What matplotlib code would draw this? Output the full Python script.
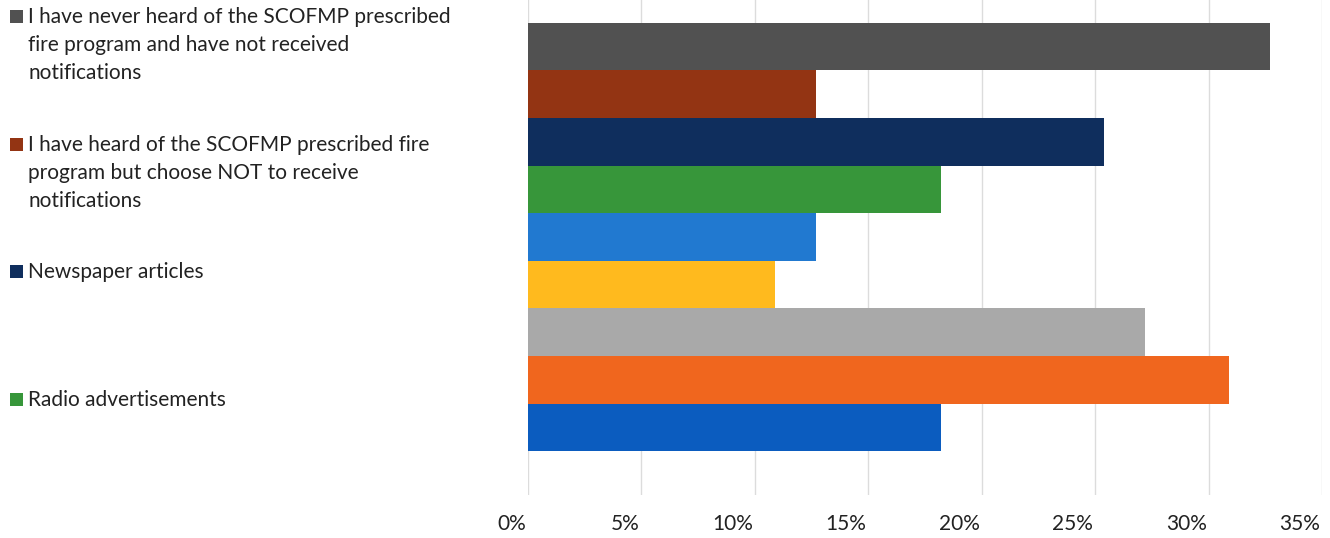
import matplotlib
matplotlib.use('Agg')
from matplotlib import pyplot as plt
from matplotlib.patches import Rectangle
from matplotlib.transforms import ScaledTranslation
import numpy as np

# series, top to bottom as drawn
labels = ['I have never heard of the SCOFMP prescribed\nfire program and have not received\nnotifications',
          'I have heard of the SCOFMP prescribed fire\nprogram but choose NOT to receive\nnotifications',
          'Newspaper articles',
          'Radio advertisements']
values = [32.7, 12.7, 25.4, 18.2, 12.7, 10.9, 27.2, 30.9, 18.2]
colors = ['#515151', '#933413', '#0f2e5d', '#37963a', '#2179d0',
          '#ffba1e', '#a9a9a9', '#f0661e', '#0b5cbf']
xticks = [0, 5, 10, 15, 20, 25, 30, 35]

W, H = 1330, 538
fig = plt.figure(figsize=(W/100, H/100), dpi=100)
plt.rcParams['font.family'] = ['Lato', 'DejaVu Sans']

ax = fig.add_axes([528/W, 1-495/H, (1322-528)/W, 495/H])
ypos = np.arange(len(values))
ax.barh(ypos, values, height=1.0, color=colors, zorder=3)
ax.set_ylim(8.5+0.92, -0.5-0.48)
ax.set_xlim(0, 35)
ax.set_xticks(xticks)
ax.set_xticklabels([str(t)+'%' for t in xticks], fontsize=15, color='#222222', ha='right')
ax.set_yticks([])
ax.tick_params(axis='x', length=0, pad=14)
for lab in ax.get_xticklabels():
	lab.set_transform(lab.get_transform() + ScaledTranslation(-2/100, 0, fig.dpi_scale_trans))
ax.grid(axis='x', color='#dcdcdc', linewidth=1, zorder=0)
for s in ax.spines.values():
	s.set_visible(False)

# legend (cut off after 4 entries, as in the original)
tops = [17, 145, 272, 400]
for i, lab in enumerate(labels):
	y0 = tops[i]
	fig.patches.append(Rectangle((10/W, 1-(y0+6)/H), 13/W, 13/H, transform=fig.transFigure,
		facecolor=colors[i], edgecolor='none'))
	for k, line in enumerate(lab.split('\n')):
		fig.text(28/W, 1-(y0+k*28)/H, line, fontsize=15, color='#222222', va='center')

fig.savefig('out.png', dpi=100)
